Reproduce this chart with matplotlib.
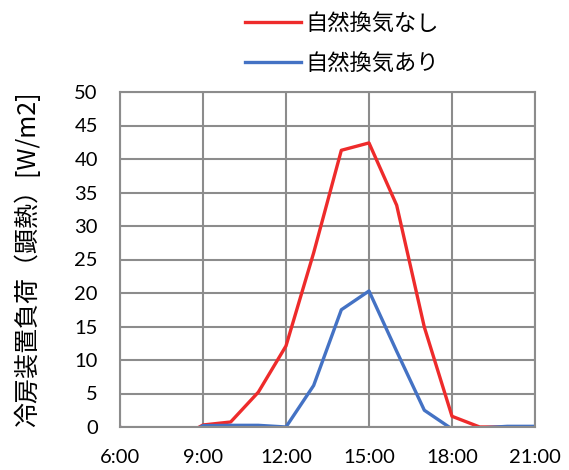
import numpy as np
from matplotlib import pyplot as plt

plt.rcParams['font.family'] = ['Lato', 'Noto Sans CJK JP', 'DejaVu Sans']

# hourly sensible cooling load [W/m2], 6:00 - 21:00
hours = [6, 7, 8, 9, 10, 11, 12, 13, 14, 15, 16, 17, 18, 19, 20, 21]
load_no_vent = [0.0, -3.0, -2.0, 0.3, 0.75, 5.2, 12.1, 26.0, 41.3, 42.4, 33.1, 14.9, 1.6, 0.0, 0.0, 0.0]
load_vent = [0.0, -3.0, -2.0, 0.2, 0.25, 0.25, 0.0, 6.2, 17.5, 20.3, 11.3, 2.5, -0.3, -0.15, 0.1, 0.1]
series_names = ['自然換気なし', '自然換気あり']

xticks = [6, 9, 12, 15, 18, 21]
xtick_labels = ['6:00', '9:00', '12:00', '15:00', '18:00', '21:00']
yticks = np.arange(0, 51, 5)

fig = plt.figure(figsize=(5.69, 4.70), dpi=100)
ax = fig.add_axes([120 / 569, 1 - 427 / 470, 415 / 569, 335 / 470])

ax.plot(hours, load_no_vent, color='#ee2b2b', lw=2.4, label=series_names[0])
ax.plot(hours, load_vent, color='#4472c4', lw=2.4, label=series_names[1])

ax.set_xlim(6, 21)
ax.set_ylim(0, 50)
ax.set_xticks(xticks)
ax.set_xticklabels(xtick_labels)
ax.set_yticks(yticks)
ax.tick_params(length=0, labelsize=14.5)
ax.tick_params(axis='x', pad=16)
ax.tick_params(axis='y', pad=16)
ax.grid(True, color='#8c8c8c', lw=1.5)
ax.set_axisbelow(True)
for sp in ax.spines.values():
    sp.set_color('#8c8c8c')
    sp.set_linewidth(1.5)

ax.set_ylabel('冷房装置負荷（顕熱）[W/m2]', fontsize=18,
              family=['Noto Sans CJK JP', 'DejaVu Sans'])
ax.yaxis.set_label_coords(-0.19, 0.5)

fig.legend(loc='upper left', bbox_to_anchor=(225 / 569, 1.017), frameon=False,
           handlelength=2.5, handletextpad=0.2, labelspacing=0.75,
           prop={'family': ['Noto Sans CJK JP', 'DejaVu Sans'], 'size': 16})

fig.savefig('out.png', dpi=100)
